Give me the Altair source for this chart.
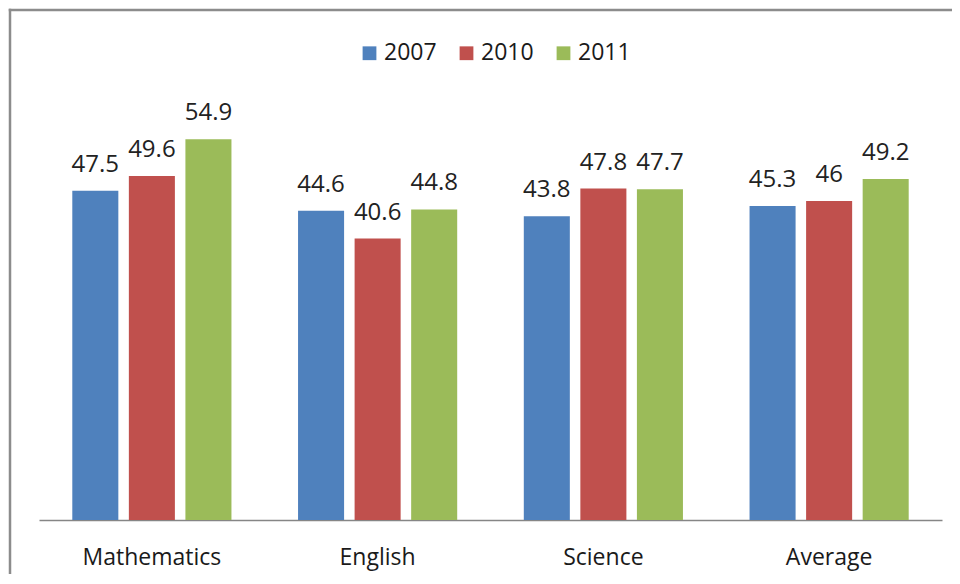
import altair as alt
import pandas as pd

categories = ["Mathematics", "English", "Science", "Average"]
years = ["2007", "2010", "2011"]
values_2007 = [47.5, 44.6, 43.8, 45.3]
values_2010 = [49.6, 40.6, 47.8, 46.0]
values_2011 = [54.9, 44.8, 47.7, 49.2]
colors = ["#4F81BD", "#C0504D", "#9BBB59"]

rows = []
for yr, vals in zip(years, [values_2007, values_2010, values_2011]):
    for cat, v in zip(categories, vals):
        rows.append({"subject": cat, "year": yr, "value": v, "label": f"{v:g}"})
df = pd.DataFrame(rows)

FONT = "Open Sans"

x_enc = alt.X("subject:N", sort=categories, title=None,
              scale=alt.Scale(paddingInner=0.295, paddingOuter=0.1475),
              axis=alt.Axis(labelFont=FONT, labelFontSize=23, labelColor="#1a1a1a",
                            labelAngle=0, ticks=False, tickSize=0, labelPadding=44,
                            labelBaseline="alphabetic", domainColor="#868686",
                            domainWidth=1.5, grid=False))
xo_enc = alt.XOffset("year:N", sort=years,
                     scale=alt.Scale(paddingInner=0.186, paddingOuter=0))
y_enc = alt.Y("value:Q", scale=alt.Scale(domain=[0, 60], nice=False, zero=True),
              axis=None)

bars = alt.Chart(df).mark_bar().encode(
    x=x_enc,
    xOffset=xo_enc,
    y=y_enc,
    color=alt.Color("year:N", sort=years,
                    scale=alt.Scale(domain=years, range=colors),
                    legend=alt.Legend(title=None, orient="none", direction="horizontal",
                                      legendX=319, legendY=-62.5, padding=0,
                                      symbolType="square", symbolSize=190,
                                      symbolStrokeWidth=0, labelFont=FONT,
                                      labelFontSize=23, labelColor="#1a1a1a",
                                      labelOffset=3, columnPadding=18)),
)

labels = alt.Chart(df).mark_text(font=FONT, fontSize=24, color="#222222",
                                 baseline="alphabetic", dy=-19).encode(
    x=alt.X("subject:N", sort=categories),
    xOffset=alt.XOffset("year:N", sort=years),
    y="value:Q",
    text="label:N",
)

one = pd.DataFrame({"a": [0]})
left_border = alt.Chart(one).mark_rule(
    stroke="#8c8c8c", strokeWidth=2.5, clip=False
).encode(x=alt.value(-29), y=alt.value(-95.25), y2=alt.value(800))
top_border = alt.Chart(one).mark_rule(
    stroke="#8c8c8c", strokeWidth=2.5, clip=False
).encode(y=alt.value(-94), x=alt.value(-30.25), x2=alt.value(1000))

chart = alt.layer(left_border, top_border, bars, labels).properties(
    width=903, height=416,
    autosize=alt.AutoSizeParams(type="none"),
    padding={"left": 31, "top": 96, "right": 10, "bottom": 54},
    background="white",
).configure_view(strokeWidth=0)

chart.save("out.html", embed_options={"renderer": "svg", "actions": False})
